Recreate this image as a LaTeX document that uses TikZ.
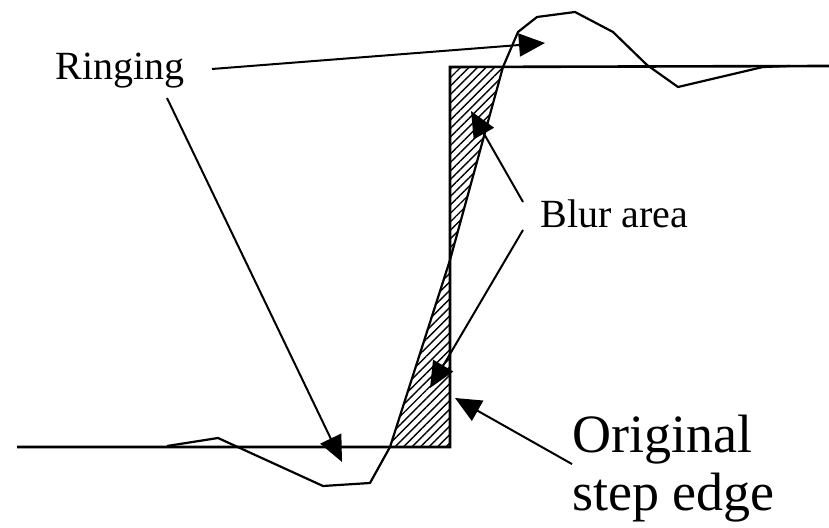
\documentclass[tikz,border=0pt]{standalone}
\usepackage{fontspec}
\setmainfont{Liberation Serif}
\usetikzlibrary{arrows.meta,patterns.meta}

\begin{document}
\begin{tikzpicture}[x=0.5pt,y=-0.5pt,
  lbl/.style={inner sep=0pt, anchor=base west, font=\fontsize{20}{24}\selectfont},
  biglbl/.style={inner sep=0pt, anchor=base west, font=\fontsize{27}{29}\selectfont},
  ptr/.style={-{Triangle[length=13pt,width=11.5pt]}, line width=1pt},
  hatch/.style={pattern={Lines[angle=45,distance=3pt,line width=0.7pt]}}]
\useasboundingbox (0,0) rectangle (829,528);
% hatched blur wedges
\fill[hatch] (450,67) -- (503,67) -- (450,260) -- cycle;
\fill[hatch] (450,260) -- (390,447) -- (450,447) -- cycle;
% original step edge
\draw[line width=1.3pt] (17,447) -- (450,447) -- (450,67) -- (829,66);
% blurred edge with ringing
\draw[line width=1.1pt, line join=round] (167,446) -- (218,438) -- (323,486) -- (370,483)
  -- (390,447) -- (450,260) -- (503,67) -- (518,32) -- (537,17) -- (575,12)
  -- (613,32) -- (647,65) -- (678,87) -- (763,67) -- (790,66);
% labels
\node[lbl] (ringing) at (55,80) {Ringing};
\node[lbl] (blur) at (540,228) {Blur area};
\node[biglbl] (orig) at (572,452) {Original};
\node[biglbl] (stepedge) at (572,510) {step edge};
% arrow ends
\coordinate (ringTail1) at (212,69);
\coordinate (ringTail2) at (167,98);
\coordinate (blurTail1) at (523,202);
\coordinate (blurTail2) at (523,230);
\coordinate (ringTop) at (545,43);
\coordinate (ringLow) at (342,462);
\coordinate (blurTop) at (471,111);
\coordinate (blurLow) at (430,388);
\coordinate (edgePt) at (455,398);
% pointers
\draw[ptr] (ringTail1) -- (ringTop);
\draw[ptr] (ringTail2) -- (ringLow);
\draw[ptr] (blurTail1) -- (blurTop);
\draw[ptr] (blurTail2) -- (blurLow);
\draw[ptr] (orig.south west) -- (edgePt);
\end{tikzpicture}
\end{document}
